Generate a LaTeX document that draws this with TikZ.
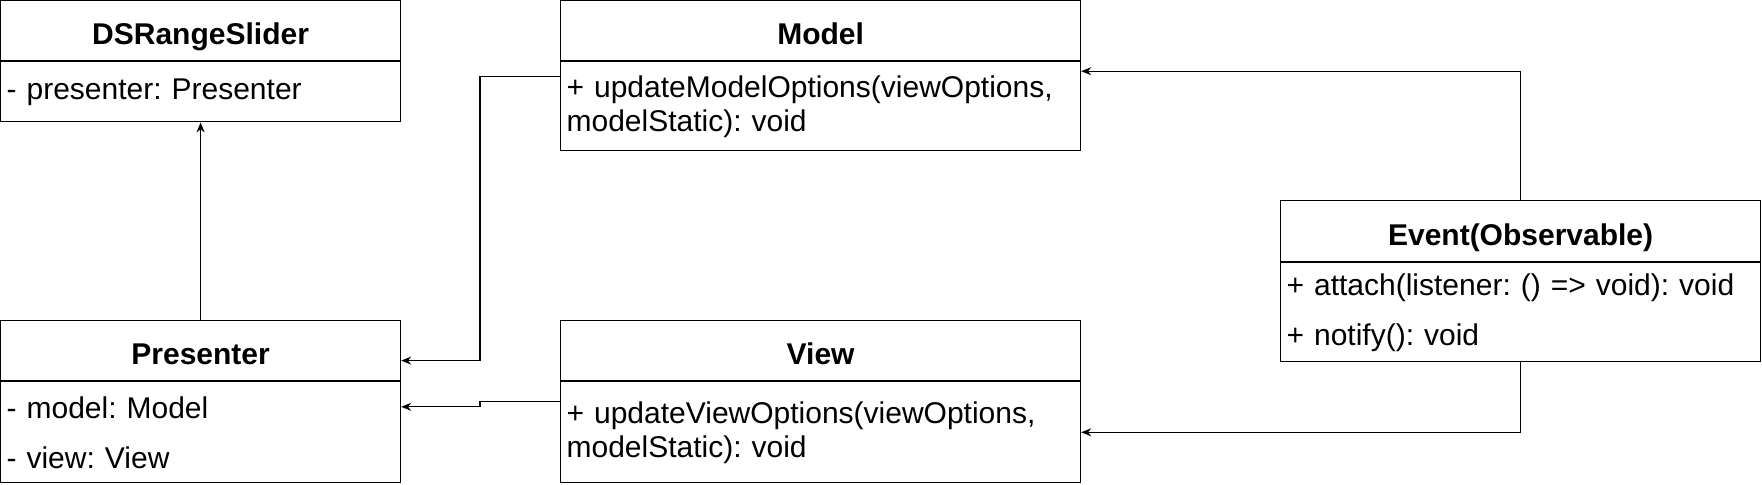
\documentclass[tikz,border=0pt]{standalone}
\usepackage{fontspec}
\setmainfont{Liberation Sans}
\frenchspacing
\usetikzlibrary{positioning,arrows.meta,calc}
\tikzset{
  umltitle/.style={draw,line width=0.6pt,anchor=north west,minimum height=30pt,
            inner sep=0pt,text height=17pt,text depth=3pt,
            font=\fontsize{15}{17}\selectfont\bfseries,fill=white},
  umlbody/.style={draw,line width=0.6pt,anchor=north west,inner xsep=3pt,inner ysep=0pt,
            align=left,font=\fontsize{15}{17}\selectfont,fill=white},
  assoc/.style={-{Stealth[length=5pt,width=4pt]},line width=0.6pt},
}
\begin{document}
\begin{tikzpicture}
  \useasboundingbox (0,0) rectangle (881pt,-242pt);
  % classes
  \node[umltitle,minimum width=200pt] (slider) at (0,0) {DSRangeSlider};
  \node[umlbody,minimum width=200pt,text width=194pt,minimum height=30pt]
        (sliderbody) at (slider.south west) {- presenter: Presenter\\[-2pt]};
  \node[umltitle,minimum width=200pt] (presenter) at (0,-160pt) {Presenter};
  \node[umlbody,minimum width=200pt,text width=194pt,minimum height=50.5pt]
        (presenterbody) at (presenter.south west) {- model: Model\\[8pt]- view: View};
  \node[umltitle,minimum width=260pt] (model) at (280pt,0) {Model};
  \node[umlbody,minimum width=260pt,text width=254pt,minimum height=44.5pt]
        (modelbody) at (model.south west)
        {+ updateModelOptions(viewOptions,\\modelStatic): void};
  \node[umltitle,minimum width=260pt] (view) at (280pt,-160pt) {View};
  \node[umlbody,minimum width=260pt,text width=254pt,minimum height=50.5pt]
        (viewbody) at (view.south west)
        {+ updateViewOptions(viewOptions,\\modelStatic): void\\[8pt]};
  \node[umltitle,minimum width=240pt,minimum height=30.5pt] (event) at (640pt,-100pt)
        {Event(Observable)};
  \node[umlbody,minimum width=240pt,text width=234pt,minimum height=49.5pt]
        (eventbody) at (event.south west)
        {+ attach(listener: () => void): void\\[8pt]+ notify(): void};
  % connectors
  \draw[assoc] (presenter.north) -- (sliderbody.south);
  \draw[assoc] ($(modelbody.north west)+(0,-7.5pt)$) -- ++(-40pt,0)
        |- ($(presenter.east)+(0,-5pt)$);
  \draw[assoc] ($(viewbody.north west)+(0,-10pt)$) -- ++(-40pt,0)
        |- ($(presenterbody.north east)+(0,-12.8pt)$);
  \draw[assoc] (event.north) |- ($(modelbody.north east)+(0,-5pt)$);
  \draw[assoc] (eventbody.south) |- (viewbody.east);
\end{tikzpicture}
\end{document}
